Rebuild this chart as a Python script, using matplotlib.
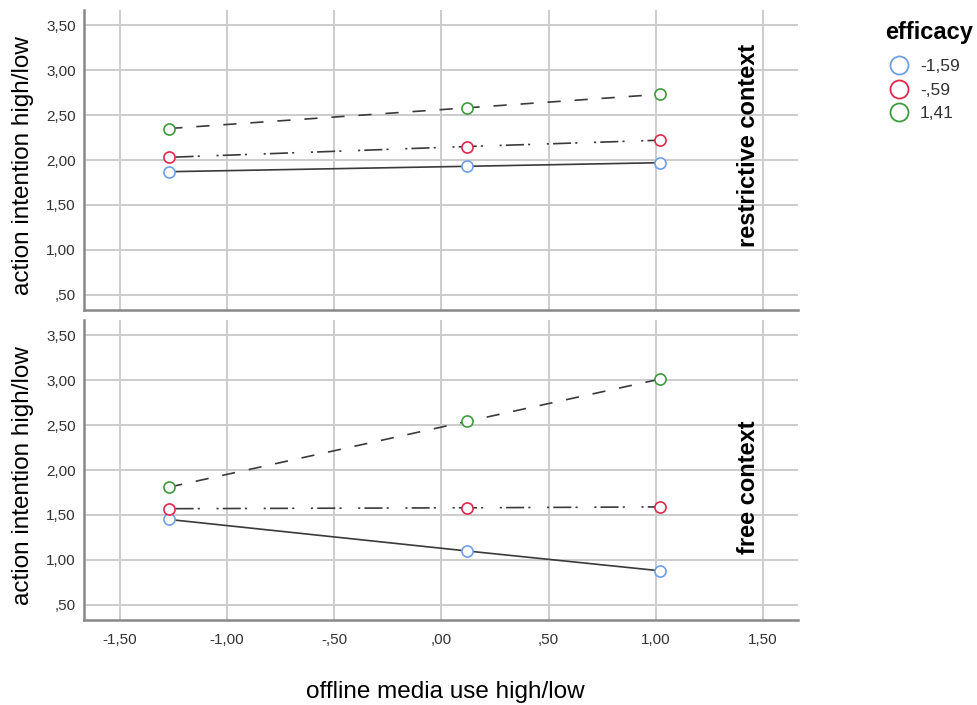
import matplotlib
matplotlib.use('Agg')
import matplotlib.pyplot as plt
from matplotlib.lines import Line2D

plt.rcParams['font.family'] = ['Liberation Sans', 'DejaVu Sans']
plt.rcParams['lines.scale_dashes'] = False

# data
media_use = [-1.27, 0.12, 1.02]
efficacy_levels = ['-1,59', '-,59', '1,41']
restrictive = {
    '-1,59': [1.87, 1.93, 1.97],
    '-,59': [2.03, 2.15, 2.22],
    '1,41': [2.35, 2.58, 2.73],
}
free = {
    '-1,59': [1.45, 1.10, 0.88],
    '-,59': [1.57, 1.58, 1.59],
    '1,41': [1.81, 2.54, 3.01],
}
panel_titles = ['restrictive context', 'free context']
x_ticks = [-1.5, -1.0, -0.5, 0.0, 0.5, 1.0, 1.5]
y_ticks = [0.5, 1.0, 1.5, 2.0, 2.5, 3.0, 3.5]

marker_colors = {'-1,59': '#6f9fe6', '-,59': '#e0284c', '1,41': '#3e9a3e'}
line_styles = {
    '-1,59': '-',
    '-,59': (0, (1.5, 3, 13, 3, 1.5, 12)),
    '1,41': (0, (9.5, 10)),
}


def spss_fmt(v):
    s = '%.2f' % v
    s = s.replace('.', ',')
    if s.startswith('0,'):
        s = s[1:]
    elif s.startswith('-0,'):
        s = '-' + s[2:]
    return s


fig = plt.figure(figsize=(9.78, 7.05), dpi=100)
left, width = 84 / 978, 714 / 978
ax_top = fig.add_axes([left, 1 - 310 / 705, width, 300 / 705])
ax_bot = fig.add_axes([left, 1 - 620 / 705, width, 300 / 705])

title_pos = [0.548, 0.443]
for i, (ax, data) in enumerate([(ax_top, restrictive), (ax_bot, free)]):
    ax.set_xlim(-1.668, 1.664)
    ax.set_ylim(0.333, 3.667)
    ax.set_xticks(x_ticks)
    ax.set_yticks(y_ticks)
    ax.set_yticklabels([spss_fmt(v) for v in y_ticks], fontsize=11, color='#333333')
    ax.grid(True, color='#cccccc', linewidth=1.4)
    ax.set_axisbelow(True)
    ax.tick_params(length=0, pad=6)
    for side in ['top', 'right']:
        ax.spines[side].set_visible(False)
    for side in ['left', 'bottom']:
        ax.spines[side].set_color('#888888')
        ax.spines[side].set_linewidth(1.8)
    for lev in efficacy_levels:
        ax.plot(media_use, data[lev], color='#3a3a3a', linewidth=1.2,
                linestyle=line_styles[lev], zorder=2)
        ax.plot(media_use, data[lev], linestyle='none', marker='o', markersize=8,
                markerfacecolor='white', markeredgecolor=marker_colors[lev],
                markeredgewidth=1.2, zorder=3)
    ax.set_ylabel('action intention high/low', fontsize=17.5)
    ax.yaxis.set_label_coords(-0.070, 0.48)
    ax.text(0.930, title_pos[i], panel_titles[i], transform=ax.transAxes, rotation=90,
            ha='center', va='center', fontsize=17, fontweight='bold')

ax_top.set_xticklabels([])
ax_bot.set_xticklabels([spss_fmt(v) for v in x_ticks], fontsize=11, color='#333333')
ax_bot.tick_params(axis='x', pad=9)
ax_bot.set_xlabel('offline media use high/low', fontsize=17.5)
ax_bot.xaxis.set_label_coords(0.506, -0.203)

handles = [Line2D([], [], linestyle='none', marker='o', markersize=13,
                  markerfacecolor='white', markeredgecolor=marker_colors[lev],
                  markeredgewidth=1.3) for lev in efficacy_levels]
leg = fig.legend(handles, efficacy_levels, loc='upper left',
                 bbox_to_anchor=(880 / 978, 1 - 50 / 705), frameon=False,
                 fontsize=12.5, borderpad=0, handlelength=1.2, handletextpad=0.6,
                 labelspacing=0.5)
for t in leg.get_texts():
    t.set_color('#333333')
fig.text(885 / 978, 1 - 32 / 705, 'efficacy', ha='left', va='center',
         fontsize=17, fontweight='bold')

fig.savefig('out.png', dpi=100)
